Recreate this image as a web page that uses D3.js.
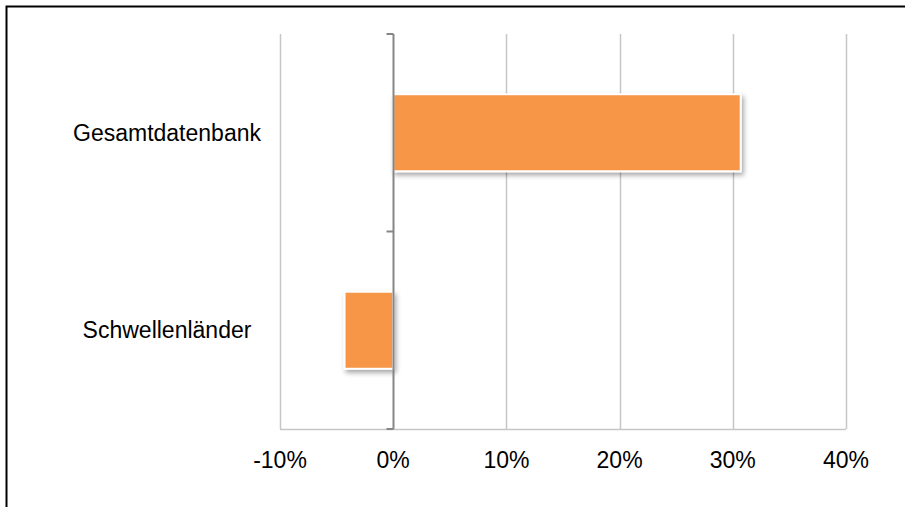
<!DOCTYPE html>
<html>
<head>
<meta charset="utf-8">
<script src="https://cdn.jsdelivr.net/npm/d3@7"></script>
<style>
  html, body { margin: 0; padding: 0; background: #fff; }
  svg { display: block; }
  text { font-family: "Liberation Sans", Arial, sans-serif; fill: #000; }
</style>
</head>
<body>
<svg id="chart" width="905" height="507"></svg>
<script>
const categories = ["Gesamtdatenbank", "Schwellenländer"];
const values = [0.307, -0.043];
const xTicks = [-0.1, 0, 0.1, 0.2, 0.3, 0.4];
const xTickLabels = ["-10%", "0%", "10%", "20%", "30%", "40%"];

const svg = d3.select("#chart");
const W = 905, H = 507;

// outer border (only top and left visible)
svg.append("rect")
  .attr("x", 6.5).attr("y", 6.5)
  .attr("width", W + 10).attr("height", H + 10)
  .attr("fill", "none").attr("stroke", "#000").attr("stroke-width", 2);

const x = d3.scaleLinear().domain([-0.1, 0.4]).range([280, 846]);
const y = d3.scaleBand().domain(categories).range([34, 429]).paddingInner(0.61).paddingOuter(0.305);
const yOuter = d3.scaleBand().domain(categories).range([34, 429]);

const defs = svg.append("defs");
const f = defs.append("filter").attr("id", "shadow")
  .attr("x", "-20%").attr("y", "-20%").attr("width", "140%").attr("height", "140%");
f.append("feDropShadow").attr("dx", 2).attr("dy", 3).attr("stdDeviation", 2.5)
  .attr("flood-color", "#000").attr("flood-opacity", 0.35);

// vertical gridlines
svg.append("g").selectAll("line").data(xTicks.filter(d => d !== 0)).join("line")
  .attr("x1", d => Math.round(x(d)) + 0.5).attr("x2", d => Math.round(x(d)) + 0.5)
  .attr("y1", 34).attr("y2", 429)
  .attr("stroke", "#c6c6c6").attr("stroke-width", 1.5);

// bottom horizontal line
svg.append("line")
  .attr("x1", x(-0.1)).attr("x2", x(0.4))
  .attr("y1", 429.5).attr("y2", 429.5)
  .attr("stroke", "#c6c6c6").attr("stroke-width", 1.5);

// bars
svg.append("g").selectAll("rect").data(categories).join("rect")
  .attr("x", (d, i) => x(Math.min(0, values[i])))
  .attr("y", d => y(d))
  .attr("width", (d, i) => Math.abs(x(values[i]) - x(0)))
  .attr("height", y.bandwidth())
  .attr("fill", "#f79646")
  .attr("stroke", "#fff").attr("stroke-width", 2)
  .attr("filter", "url(#shadow)");

// zero axis
const x0 = Math.round(x(0)) + 0.5;
svg.append("line")
  .attr("x1", x0).attr("x2", x0).attr("y1", 34).attr("y2", 429)
  .attr("stroke", "#868686").attr("stroke-width", 2);
const yTickPos = [34, yOuter(categories[1]), 429];
svg.append("g").selectAll("line").data(yTickPos).join("line")
  .attr("x1", x0 - 7).attr("x2", x0)
  .attr("y1", d => d).attr("y2", d => d)
  .attr("stroke", "#868686").attr("stroke-width", 2);

// category labels
svg.append("g").selectAll("text").data(categories).join("text")
  .attr("x", 167)
  .attr("y", d => y(d) + y.bandwidth() / 2)
  .attr("dy", "0.35em")
  .attr("text-anchor", "middle")
  .attr("font-size", 23)
  .text(d => d);

// x tick labels
svg.append("g").selectAll("text").data(xTicks).join("text")
  .attr("x", d => x(d))
  .attr("y", 468)
  .attr("text-anchor", "middle")
  .attr("font-size", 23)
  .text((d, i) => xTickLabels[i]);
</script>
</body>
</html>
